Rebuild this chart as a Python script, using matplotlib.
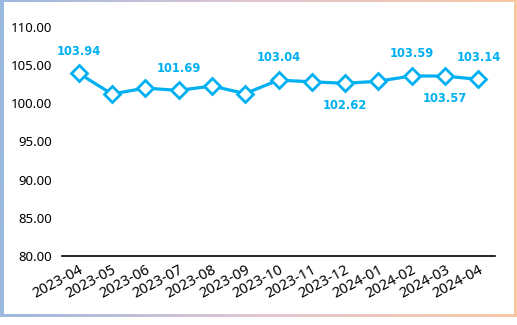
import numpy as np
import matplotlib
matplotlib.use('Agg')
import matplotlib.pyplot as plt
from matplotlib.colors import LinearSegmentedColormap

plt.rcParams['font.family'] = ['Noto Sans', 'DejaVu Sans']

# data
months = ['2023-04', '2023-05', '2023-06', '2023-07', '2023-08', '2023-09', '2023-10',
          '2023-11', '2023-12', '2024-01', '2024-02', '2024-03', '2024-04']
values = [103.94, 101.22, 102.00, 101.69, 102.27, 101.28, 103.04,
          102.82, 102.62, 102.90, 103.59, 103.57, 103.14]
# which points carry a label, and where (1 above, -1 below)
label_pos = {0: 1, 3: 1, 6: 1, 8: -1, 10: 1, 11: -1, 12: 1}
yticks = [80, 85, 90, 95, 100, 105, 110]

blue = '#00B0F0'

fig = plt.figure(figsize=(5.17, 3.25), dpi=100)

# gradient frame behind everything
bg = fig.add_axes([0, 0, 1, 1], zorder=-10)
cmap = LinearSegmentedColormap.from_list('frame', ['#9BB8DF', '#E3C6D2', '#F8C8A4'])
grad = np.tile(np.linspace(0, 1, 256), (2, 1))
bg.imshow(grad, aspect='auto', cmap=cmap, extent=[0, 517, 0, 325])
bg.add_patch(plt.Rectangle((0, 0), 517, 8, color='white', lw=0))
bg.add_patch(plt.Rectangle((3.5, 11), 510, 312, color='white', lw=0))
bg.set_xlim(0, 517)
bg.set_ylim(0, 325)
bg.axis('off')

ax = fig.add_axes([62 / 517, 1 - 256 / 325, (495 - 62) / 517, (256 - 27) / 325])
ax.patch.set_alpha(0)
x = np.arange(len(months))
ax.plot(x, values, color=blue, lw=2.3, marker='D', ms=8.5,
        mfc='white', mec=blue, mew=2.0, zorder=3)

for i, side in label_pos.items():
    ax.annotate(f'{values[i]:.2f}', (x[i], values[i]), xytext=(0, 16 * side),
                textcoords='offset points', ha='center', va='center',
                color=blue, fontsize=8.3, fontweight='bold', family='DejaVu Sans')

ax.set_xlim(-0.5, len(months) - 0.5)
ax.set_ylim(80, 110)
ax.set_yticks(yticks)
ax.set_yticklabels([f'{v:.2f}' for v in yticks], fontsize=9.5)
ax.set_xticks(x)
ax.set_xticklabels(months, rotation=28, ha='right', rotation_mode='anchor', fontsize=10.5)
ax.tick_params(length=0, pad=7)
ax.tick_params(axis='x', pad=5)
for s in ['top', 'right', 'left']:
    ax.spines[s].set_visible(False)
ax.spines['bottom'].set_color('black')
ax.spines['bottom'].set_linewidth(1.2)

fig.savefig('out.png', dpi=100)
